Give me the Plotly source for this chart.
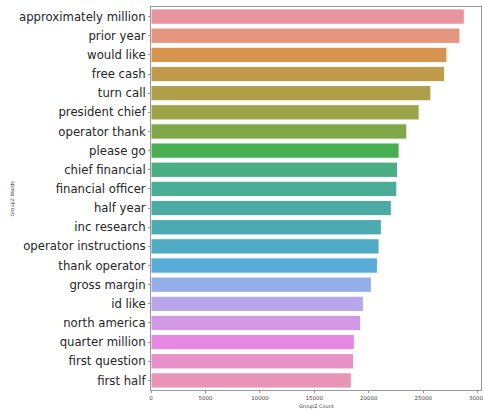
import plotly.graph_objects as go

words = ["approximately million", "prior year", "would like", "free cash", "turn call",
         "president chief", "operator thank", "please go", "chief financial", "financial officer",
         "half year", "inc research", "operator instructions", "thank operator", "gross margin",
         "id like", "north america", "quarter million", "first question", "first half"]
counts = [28770, 28370, 27170, 26960, 25700, 24620, 23490, 22780, 22630, 22570,
          22070, 21150, 20940, 20790, 20230, 19500, 19250, 18670, 18600, 18390]
tick_vals = [0, 5000, 10000, 15000, 20000, 25000, 30000]
colors = ["#E8949E", "#E6967F", "#D6944E", "#C09B4A", "#ADA048", "#9DA448", "#81A848",
          "#48AE52", "#4AAF84", "#4AAE96", "#4BAAA3", "#4CAAB0", "#50AAC3", "#58ACDA",
          "#94AEE8", "#B7A6EC", "#D298E6", "#E687E1", "#E891C8", "#E894B4"]

fig = go.Figure(go.Bar(
    x=counts, y=words, orientation="h", width=0.8,
    marker=dict(color=colors, line=dict(color="white", width=1)),
))

H_plot = 410 - 7 - 20
W_plot = 483 - 151 - 2

fig.update_layout(
    width=483, height=410,
    margin=dict(l=151, r=2, t=7, b=20),
    paper_bgcolor="white", plot_bgcolor="white",
    font=dict(family="DejaVu Sans", color="#262626"),
    showlegend=False,
    annotations=[
        dict(text="Group2 Count", x=0.5, y=-(406 - 390) / H_plot, xref="paper", yref="paper",
             yanchor="middle", showarrow=False, font=dict(size=5, color="#444444")),
        dict(text="Group2 Words", x=-(151 - 12) / W_plot, y=0.5, xref="paper", yref="paper",
             xanchor="center", textangle=-90, showarrow=False, font=dict(size=5, color="#444444")),
    ],
)

fig.update_xaxes(
    range=[0, 30300], tickvals=tick_vals, ticktext=[str(v) for v in tick_vals],
    tickfont=dict(size=5.5, color="#444444"), showgrid=False, zeroline=False,
    showline=True, linecolor="#999999", linewidth=1, mirror=True,
    ticks="outside", ticklen=2, tickcolor="#999999", automargin=False,
    ticklabeloverflow="allow",
)
fig.update_yaxes(
    categoryorder="array", categoryarray=words, autorange="reversed",
    tickfont=dict(size=11.7), showgrid=False, zeroline=False,
    showline=True, linecolor="#999999", linewidth=1, mirror=True,
    ticks="outside", ticklen=2, tickcolor="#999999", automargin=False,
)

fig.write_html("out.html", config={"displayModeBar": False},
               post_script="document.body.style.margin='0';")
